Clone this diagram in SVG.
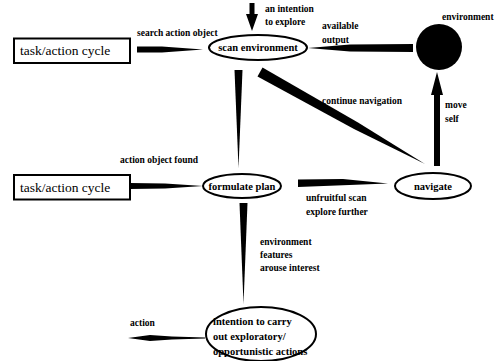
<svg xmlns="http://www.w3.org/2000/svg" width="495" height="361" viewBox="0 0 495 361">
<style>
.lbl{font-family:"Liberation Serif","Times New Roman","DejaVu Serif",serif;font-weight:bold;font-size:9.5px;fill:#000}
.node{font-family:"Liberation Serif","Times New Roman","DejaVu Serif",serif;font-weight:bold;font-size:10.5px;fill:#000}
.box{font-family:"Liberation Serif","Times New Roman","DejaVu Serif",serif;font-size:13.5px;fill:#000}
.shape{fill:#fff;stroke:#000;stroke-width:2}
.arr{fill:#000;stroke:none}
</style>
<rect width="495" height="361" fill="#fff"/>
<g id="connectors">
<path class="arr" d="M249.5,3 H254.5 V14 H258 L252,31 L246,14 H249.5 Z"/>
<path class="arr" d="M137,46.5 L162,46.5 L203,49.5 L162,52.5 L137,52.5 Z"/>
<path class="arr" d="M308,48 L350,44.5 L413,44 L413,52 L350,51.5 Z"/>
<path class="arr" d="M234.5,70 L242.5,70 L238.5,168 Z"/>
<path class="arr" d="M262.5,67.5 L358,122.5 L425,164 L354,129 L257.5,76.5 Z"/>
<path class="arr" d="M298,179.5 L343,179 L388,183.5 L298,187 Z"/>
<path class="arr" d="M434,166 V95 H431 L437,72 L443,95 H440 V166 Z"/>
<path class="arr" d="M239.5,203 L247.5,203 L243.5,304 Z"/>
<path class="arr" d="M130,183 L165,183.5 L203,186 L165,188.5 L130,189 Z"/>
<path class="arr" d="M128,338 L150,335 L172,336.5 L205,337.5 L205,338.5 L172,339.5 L150,341 Z"/>
<text class="lbl" x="137" y="36">search action object</text>
<text class="lbl" x="265" y="12">an intention</text>
<text class="lbl" x="265" y="25">to explore</text>
<text class="lbl" x="322" y="29">available</text>
<text class="lbl" x="322" y="43">output</text>
<text class="lbl" x="322" y="104">continue navigation</text>
<text class="lbl" x="445" y="108">move</text>
<text class="lbl" x="445" y="122">self</text>
<text class="lbl" x="120" y="163">action object found</text>
<text class="lbl" x="306" y="201">unfruitful scan</text>
<text class="lbl" x="306" y="215">explore further</text>
<text class="lbl" x="260" y="245">environment</text>
<text class="lbl" x="260" y="258">features</text>
<text class="lbl" x="260" y="271">arouse interest</text>
<text class="lbl" x="130" y="326">action</text>
</g>
<g id="task1">
<rect class="shape" x="14" y="38.5" width="116" height="24.5"/>
<text class="box" x="20" y="55">task/action cycle</text>
</g>
<g id="scan">
<ellipse class="shape" cx="258" cy="47.5" rx="49" ry="12.5"/>
<text class="node" x="258" y="51" text-anchor="middle">scan environment</text>
</g>
<g id="environment">
<circle cx="439" cy="47" r="23" fill="#000"/>
<text class="lbl" x="442" y="20">environment</text>
</g>
<g id="task2">
<rect class="shape" x="14" y="175" width="116" height="24.5"/>
<text class="box" x="20" y="191.5">task/action cycle</text>
</g>
<g id="formulate">
<ellipse class="shape" cx="242" cy="186" rx="39" ry="12"/>
<text class="node" x="242" y="189.5" text-anchor="middle">formulate plan</text>
</g>
<g id="navigate">
<ellipse class="shape" cx="433" cy="186" rx="38" ry="13"/>
<text class="node" x="433" y="189.5" text-anchor="middle">navigate</text>
</g>
<g id="intention">
<ellipse class="shape" cx="261" cy="334" rx="55" ry="27"/>
<text class="node" x="213" y="325">intention to carry</text>
<text class="node" x="213" y="340">out exploratory/</text>
<text class="node" x="213" y="355">opportunistic actions</text>
</g>
</svg>
